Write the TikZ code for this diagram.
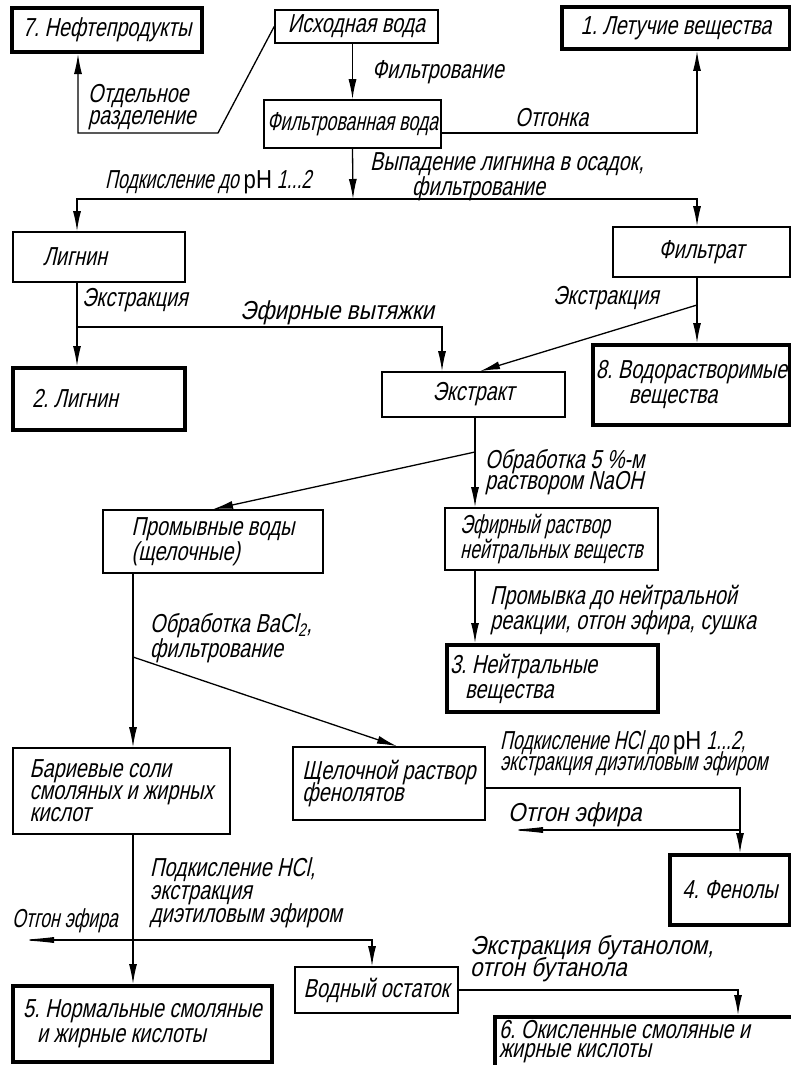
\documentclass[tikz,border=0pt]{standalone}
\usepackage{fontspec}
\newfontfamily\gost{Liberation Sans}[FakeStretch=0.76,FakeSlant=0.22]
\newfontfamily\gostn{Liberation Sans}[FakeStretch=0.68,FakeSlant=0.22]
\newfontfamily\gostw{Liberation Sans}[FakeStretch=0.86,FakeSlant=0.22]
\newfontfamily\phfont{Liberation Sans}[FakeStretch=0.85]
\newcommand{\phunit}{{\phfont pH}}
\usetikzlibrary{arrows.meta}

\begin{document}
\frenchspacing
\begin{tikzpicture}[x=1pt,y=-1pt,
	every node/.style={font=\gost\fontsize{26}{25}\selectfont},
	narrow/.style={font=\gostn\fontsize{26}{25}\selectfont},
	wide/.style={font=\gostw\fontsize{26}{25}\selectfont},
	box/.style={draw,line width=1.6pt,align=flush left,inner ysep=0pt},
	outbox/.style={box,line width=4pt},
	lbl/.style={anchor=west,align=left,inner sep=0pt},
	arr/.style={line width=1.3pt,-{Latex[length=20pt,width=8pt]}},
	drain/.style={line width=1.3pt,-{Latex[length=36pt,width=6pt]}},
	split/.style={line width=1.3pt,{Latex[length=36pt,width=6pt]}-{Latex[length=20pt,width=8pt]}}]
	\fill[white] (0,0) rectangle (790,1065);
	\useasboundingbox (0,0) rectangle (790,1065);

	% boxes
	\node[outbox,minimum width=190pt,minimum height=44pt] (oil) at (107,30) {7. Нефтепродукты};
	\node[box,minimum width=163pt,minimum height=33pt] (raw) at (356.5,26.5) {Исходная вода};
	\node[outbox,minimum width=228pt,minimum height=42pt] (volat) at (676,28) {1. Летучие вещества};
	\node[box,narrow,minimum width=175pt,minimum height=48pt] (filt) at (352.5,124) {Фильтрованная вода};
	\node[box,text width=112pt,inner xsep=30pt,minimum height=50pt] (lign) at (99,257) {Лигнин};
	\node[box,minimum width=177pt,minimum height=50pt] (filtrate) at (701.5,252) {Фильтрат};
	\node[outbox,text width=134pt,inner xsep=19pt,minimum height=62pt] (lignout) at (99,399) {2. Лигнин};
	\node[box,minimum width=183pt,minimum height=45pt] (extr) at (473.5,394.5) {Экстракт};
	\node[outbox,minimum width=197pt,minimum height=80pt] (watsol) at (691.5,385) {8. Водорастворимые\\\hspace*{33pt}вещества};
	\node[box,minimum width=220pt,minimum height=63pt] (wash) at (213,541.5) {Промывные воды\\(щелочные)};
	\node[box,narrow,minimum width=213pt,minimum height=62pt] (ether) at (551.5,539) {Эфирный раствор\\нейтральных веществ};
	\node[outbox,text width=205pt,inner xsep=3pt,minimum height=67pt] (neutral) at (552.5,678.5) {3. Нейтральные\\\hspace*{15pt}вещества};
	\node[box,minimum width=217pt,minimum height=86pt] (barium) at (121.5,791) {Бариевые соли\\[-3pt]смоляных и жирных\\[-3pt]кислот};
	\node[box,minimum width=192pt,minimum height=73pt] (phenolate) at (389,783.5) {Щелочной раствор\\[-3pt]фенолятов};
	\node[outbox,minimum width=120pt,minimum height=70pt] (phenols) at (730,890) {4. Фенолы};
	\node[box,minimum width=163pt,minimum height=46pt] (aq) at (376.5,990) {Водный остаток};
	\node[outbox,minimum width=259pt,minimum height=76pt] (normal) at (142.5,1024) {5. Нормальные смоляные\\\hspace*{14pt}и жирные кислоты};
	\node[outbox,text width=297pt,inner xsep=4pt,minimum height=50pt] (oxid) at (647.5,1042) {6. Окисленные смоляные и\\[-6pt]жирные кислоты};

	% top part
	\coordinate (sep) at (218,133);
	\coordinate (sepl) at (78,133);
	\draw[arr] (raw.west) -- (sep) -- (sepl) -- (oil.south -| sepl);
	\draw[arr] (raw.south -| filt.north) -- (filt.north);
	\coordinate (dist) at (697,133);
	\draw[arr] (filt.east |- dist) -- (dist) -- (volat.south -| dist);
	\coordinate (acid) at (353,199);
	\draw[arr] (filt.south) -- (acid);
	\draw[arr] (acid) -| ([xshift=-22pt]lign.north);
	\draw[arr] (acid) -| ([xshift=-4.5pt]filtrate.north);

	\node[lbl] (lsep) at (88,107) {Отдельное\\[-3pt]разделение};
	\node[lbl] (lfilt) at (372,72) {Фильтрование};
	\node[lbl] (ldist) at (515,118) {Отгонка};
	\node[lbl,narrow] (lacid) at (105,182) {Подкисление до \phunit{} 1...2};
	\node[lbl,font=\gost\fontsize{26}{19}\selectfont] (lprec) at (370,177) {Выпадение лигнина в осадок,\\\hspace*{42pt}фильтрование};

	% extraction
	\coordinate (ethx) at (77,327);
	\draw[arr] ([xshift=-22pt]lign.south) -- ([xshift=-22pt]lignout.north);
	\draw[arr] (ethx) -| ([xshift=-31.5pt]extr.north);
	\coordinate (fx) at (697,305);
	\draw[arr] (filtrate.south -| fx) -- (watsol.north -| fx);
	\draw[arr] (fx) -- ([xshift=6.5pt]extr.north);

	\node[lbl] (lext) at (82,300) {Экстракция};
	\node[lbl,wide] (leth) at (240,313) {Эфирные вытяжки};
	\node[lbl] (lext2) at (553,298) {Экстракция};

	% alkali treatment
	\coordinate (ex) at (475,452);
	\draw[arr] (extr.south -| ex) -- (ether.north -| ex);
	\draw[arr] (ex) -- (wash.north);
	\draw[arr] (ether.south -| ex) -- (neutral.north -| ex);

	\node[lbl] (lnaoh) at (485,472) {Обработка 5 \%-м\\[-4pt]раствором NaOH};
	\node[lbl] (lwash) at (490,610) {Промывка до нейтральной\\реакции, отгон эфира, сушка};

	% barium salts and phenolates
	\coordinate (bx) at (133,657);
	\draw[arr] (wash.south -| bx) -- (barium.north -| bx);
	\draw[arr] (bx) -- ([xshift=8pt]phenolate.north);
	\coordinate (px) at (740,830);
	\coordinate (pend) at (507,830);
	\draw[arr] ([yshift=-4.5pt]phenolate.east) -| (phenols.north -| px);
	\draw[drain] (px) -- (pend);

	\node[lbl] (lbacl) at (150,638) {Обработка BaCl\textsubscript{2},\\фильтрование};
	\node[lbl,narrow] (lhcl) at (500,753) {Подкисление HCl до \phunit{} 1...2,\\[-4pt]экстракция диэтиловым эфиром};
	\node[lbl,wide] (ldrain) at (508,815) {Отгон эфира};

	% acids
	\coordinate (aend) at (18,940);
	\draw[arr] (barium.south -| bx) -- (normal.north -| bx);
	\draw[split] (aend) -| ([xshift=-4.5pt]aq.north);
	\draw[arr] (aq.east) -| ([xshift=90.5pt]oxid.north);

	\node[lbl] (lhcl2) at (150,893) {Подкисление HCl,\\[-2pt]экстракция\\[-2pt]диэтиловым эфиром};
	\node[lbl,narrow] (ldrain2) at (12,921) {Отгон эфира};
	\node[lbl,wide] (lbut) at (470,959) {Экстракция бутанолом,\\[-3pt]отгон бутанола};
\end{tikzpicture}
\end{document}
